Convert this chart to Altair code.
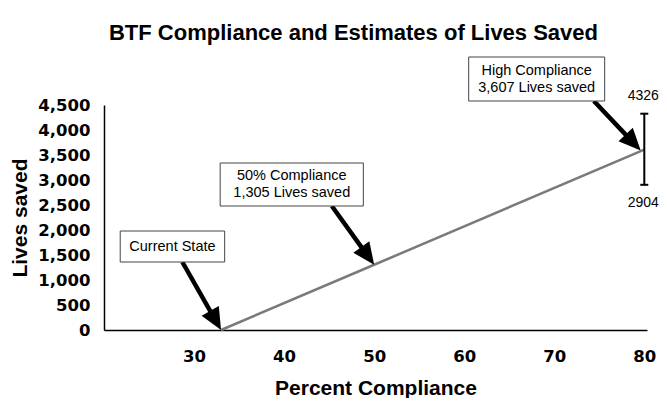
import math
import altair as alt
import pandas as pd

# ---- data ----
percent = [33, 50, 80]
lives = [0, 1305, 3607]

err_x = [80]
err_low = [2904]
err_high = [4326]

x_ticks = [30, 40, 50, 60, 70, 80]
y_ticks = [0, 500, 1000, 1500, 2000, 2500, 3000, 3500, 4000, 4500]

notes = ["Current State", "50% Compliance\n1,305 Lives saved", "High Compliance\n3,607 Lives saved"]

# ---- annotation layout (data units) ----
box_x1 = [21.8, 32.9, 60.5]
box_x2 = [33.4, 48.8, 75.6]
box_y1 = [1360, 2480, 4580]
box_y2 = [1980, 3340, 5460]
arrow_xs = [28.7, 45.3, 74.4]
arrow_ys = [1360, 2480, 4580]
arrow_xt = [33, 50, 79.6]
arrow_yt = [0, 1305, 3590]

W, H = 543, 225
XDOM = [20, 80.3]
YDOM = [0, 4500]
kx = W / (XDOM[1] - XDOM[0])
ky = H / (YDOM[1] - YDOM[0])
LINE_H = 17

FONT = "Liberation Sans"
TICKFONT = "DejaVu Sans"

def X(field):
    return alt.X(f"{field}:Q", scale=alt.Scale(domain=XDOM, nice=False, zero=False),
                 axis=alt.Axis(values=x_ticks, title="Percent Compliance", format="d"))

def Y(field):
    return alt.Y(f"{field}:Q", scale=alt.Scale(domain=YDOM, nice=False),
                 axis=alt.Axis(values=y_ticks, title="Lives saved", format=",d"))

line_df = pd.DataFrame({"percent": percent, "lives": lives})
err_df = pd.DataFrame({"x": err_x, "lo": err_low, "hi": err_high,
                       "tlo": [str(v) for v in err_low], "thi": [str(v) for v in err_high]})

box_df = pd.DataFrame({"x1": box_x1, "x2": box_x2, "y1": box_y1, "y2": box_y2, "note": notes})
box_df["cx"] = (box_df["x1"] + box_df["x2"]) / 2
# centre the (possibly two-line) text block inside its box
box_df["cy"] = [(a + b) / 2 + (n.count("\n")) * (LINE_H / 2) / ky
                for a, b, n in zip(box_y1, box_y2, notes)]

ax0, ay0, ax1, ay1 = arrow_xs, arrow_ys, arrow_xt, arrow_yt
arr = pd.DataFrame({"sx": ax0, "sy": ay0, "tx": ax1, "ty": ay1})
arr["ex"] = [a + 0.78 * (b - a) for a, b in zip(ax0, ax1)]
arr["ey"] = [a + 0.78 * (b - a) for a, b in zip(ay0, ay1)]
arr["angle"] = [
    (math.degrees(math.atan2((xt - xs) * kx, -(ys - yt) * ky)) % 360)
    for xs, ys, xt, yt in zip(ax0, ay0, ax1, ay1)
]

line = alt.Chart(line_df).mark_line(color="#7a7a7a", strokeWidth=2.5).encode(
    x=X("percent"), y=Y("lives"))

err_rule = alt.Chart(err_df).mark_rule(color="black", strokeWidth=2).encode(
    x=X("x"), y=Y("lo"), y2="hi:Q")
cap_lo = alt.Chart(err_df).mark_rule(color="black", strokeWidth=2, xOffset=-4, x2Offset=4).encode(
    x=X("x"), x2="x:Q", y=Y("lo"))
cap_hi = alt.Chart(err_df).mark_rule(color="black", strokeWidth=2, xOffset=-4, x2Offset=4).encode(
    x=X("x"), x2="x:Q", y=Y("hi"))
txt_hi = alt.Chart(err_df).mark_text(font=FONT, fontSize=14, color="black", align="center",
                                     baseline="middle", dx=-1, dy=-18).encode(
    x=X("x"), y=Y("hi"), text="thi:N")
txt_lo = alt.Chart(err_df).mark_text(font=FONT, fontSize=14, color="black", align="center",
                                     baseline="middle", dx=-1, dy=18).encode(
    x=X("x"), y=Y("lo"), text="tlo:N")

boxes = alt.Chart(box_df).mark_rect(fill="white", stroke="#444", strokeWidth=1).encode(
    x=X("x1"), x2="x2:Q", y=Y("y1"), y2="y2:Q")
box_text = alt.Chart(box_df).mark_text(font=FONT, fontSize=14.5, color="black", align="center",
                                       baseline="middle", lineBreak="\n", lineHeight=LINE_H).encode(
    x=X("cx"), y=Y("cy"), text="note:N")

shafts = alt.Chart(arr).mark_rule(color="black", strokeWidth=4.5).encode(
    x=X("sx"), y=Y("sy"), x2="ex:Q", y2="ey:Q")
heads = alt.Chart(arr).mark_point(shape="M0,0L0.9,2L-0.9,2Z", filled=True, fill="black",
                                  opacity=1, size=480).encode(
    x=X("tx"), y=Y("ty"), angle=alt.Angle("angle:Q", scale=None))

chart = alt.layer(line, err_rule, cap_lo, cap_hi, txt_hi, txt_lo, shafts, heads, boxes, box_text).properties(
    width=W, height=H,
    title=alt.TitleParams("BTF Compliance and Estimates of Lives Saved", font=FONT, fontSize=22,
                          fontWeight="bold", color="black", anchor="middle", dx=-22, offset=12),
    autosize=alt.AutoSizeParams(type="none"),
    padding={"left": 96, "top": 97, "right": 12, "bottom": 68},
).configure_view(stroke=None).configure_axis(
    grid=False, ticks=False, domainColor="black", domainWidth=1.5,
    labelFont=TICKFONT, labelFontSize=16.5, labelFontWeight="bold", labelColor="black",
    titleFont=FONT, titleFontSize=21, titleFontWeight="bold", titleColor="black",
).configure_axisY(labelPadding=14, titlePadding=7).configure_axisX(labelPadding=18, titlePadding=13)

chart.save("out.html", embed_options={"renderer": "svg", "actions": False})
